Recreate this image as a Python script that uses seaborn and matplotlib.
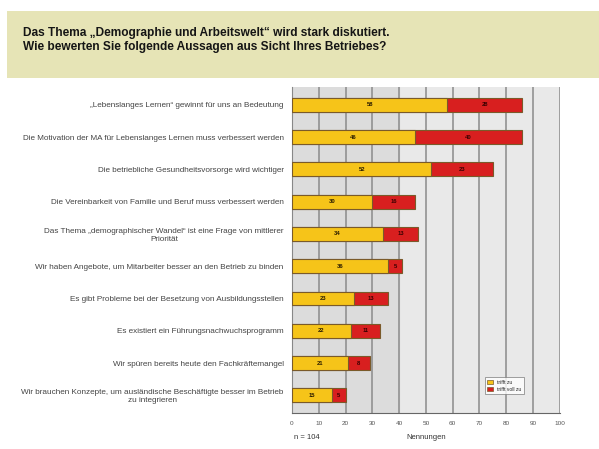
import matplotlib
matplotlib.use("Agg")
import matplotlib.pyplot as plt
import matplotlib.patches as mpatches
import seaborn as sns
import pandas as pd
import numpy as np

categories = [
    "„Lebenslanges Lernen“ gewinnt für uns an Bedeutung",
    "Die Motivation der MA für Lebenslanges Lernen muss verbessert werden",
    "Die betriebliche Gesundheitsvorsorge wird wichtiger",
    "Die Vereinbarkeit von Familie und Beruf muss verbessert werden",
    "Das Thema „demographischer Wandel“ ist eine Frage von mittlerer\nPriorität",
    "Wir haben Angebote, um Mitarbeiter besser an den Betrieb zu binden",
    "Es gibt Probleme bei der Besetzung von Ausbildungsstellen",
    "Es existiert ein Führungsnachwuchsprogramm",
    "Wir spüren bereits heute den Fachkräftemangel",
    "Wir brauchen Konzepte, um ausländische Beschäftigte besser im Betrieb\nzu integrieren",
]
trifft_zu = [58, 46, 52, 30, 34, 36, 23, 22, 21, 15]
trifft_voll_zu = [28, 40, 23, 16, 13, 5, 13, 11, 8, 5]
x_ticks = [0, 10, 20, 30, 40, 50, 60, 70, 80, 90, 100]
legend_labels = ["trifft zu", "trifft voll zu"]

df = pd.DataFrame({
    "Aussage": categories,
    "zu": trifft_zu,
    "voll": trifft_voll_zu,
})
df["gesamt"] = df["zu"] + df["voll"]

sns.set_style("white")
plt.rcParams["font.family"] = ["Liberation Sans", "DejaVu Sans"]

fig = plt.figure(figsize=(5.99, 4.49), dpi=100)

# title band
band = mpatches.Rectangle((0.012, 0.826), 0.988, 0.149, transform=fig.transFigure,
                          facecolor="#e6e4b6", edgecolor="none", zorder=0)
fig.patches.append(band)
fig.text(0.038, 0.911, "Das Thema „Demographie und Arbeitswelt“ wird stark diskutiert.\n"
         "Wie bewerten Sie folgende Aussagen aus Sicht Ihres Betriebes?",
         fontsize=8.6, fontweight="bold", color="#151515", va="center", ha="left",
         linespacing=1.25)

ax = fig.add_axes([0.4875, 0.080, 0.447, 0.726])
ax.set_facecolor("#e9e9e9")
ax.axvspan(0, 40, color="#dcdcdc", zorder=0)

yellow = "#f6c419"
red = "#d81f1f"
edge = "#7a5a2a"

sns.barplot(data=df, y="Aussage", x="gesamt", color=red, orient="h",
            width=0.43, edgecolor=edge, linewidth=0.8, ax=ax, saturation=1, zorder=3)
sns.barplot(data=df, y="Aussage", x="zu", color=yellow, orient="h",
            width=0.43, edgecolor=edge, linewidth=0.8, ax=ax, saturation=1, zorder=4)

for i, (z, v) in enumerate(zip(trifft_zu, trifft_voll_zu)):
    ax.text(z / 2, i, str(z), ha="center", va="center", fontsize=4.2, color="#2a1c00",
            fontweight="bold", zorder=5)
    ax.text(z + v / 2, i, str(v), ha="center", va="center", fontsize=4.2, color="#3a0000",
            fontweight="bold", zorder=5)

ax.set_xlim(0, 100)
ax.set_ylim(9.55, -0.55)
ax.set_xticks(x_ticks)
ax.set_xticklabels([str(t) for t in x_ticks], fontsize=4.6, color="#555555")
ax.tick_params(axis="x", length=0, pad=6)
ax.set_yticks(np.arange(len(categories)))
ax.tick_params(axis="y", length=0, pad=6, labelsize=5.9, labelcolor="#444444")
for lab in ax.get_yticklabels():
    lab.set_multialignment("center")
ax.set_yticks(np.arange(len(categories)) + 0.5, minor=True)
ax.tick_params(axis="y", which="minor", length=3, color="#888888", direction="out")
ax.set_xlabel("")
ax.set_ylabel("")
ax.grid(axis="x", color="#8a8a8a", linewidth=1.1, zorder=1)
ax.set_axisbelow(True)
for s in ["top", "right"]:
    ax.spines[s].set_visible(False)
ax.spines["left"].set_color("#888888")
ax.spines["bottom"].set_color("#666666")
ax.spines["left"].set_linewidth(0.8)
ax.spines["bottom"].set_linewidth(0.8)

handles = [mpatches.Patch(facecolor=yellow, edgecolor=edge, linewidth=0.5),
           mpatches.Patch(facecolor=red, edgecolor=edge, linewidth=0.5)]
leg = ax.legend(handles, legend_labels, loc="lower left", bbox_to_anchor=(0.71, 0.05),
                fontsize=3.6, frameon=True, fancybox=False, edgecolor="#777777",
                handlelength=1.2, handleheight=0.7, borderpad=0.5, labelspacing=0.4)
leg.get_frame().set_linewidth(0.6)

fig.text(0.49, 0.022, "n = 104", fontsize=5.5, color="#333333", ha="left")
fig.text(0.678, 0.022, "Nennungen", fontsize=5.5, color="#333333", ha="left")

fig.savefig("out.png", dpi=100)
